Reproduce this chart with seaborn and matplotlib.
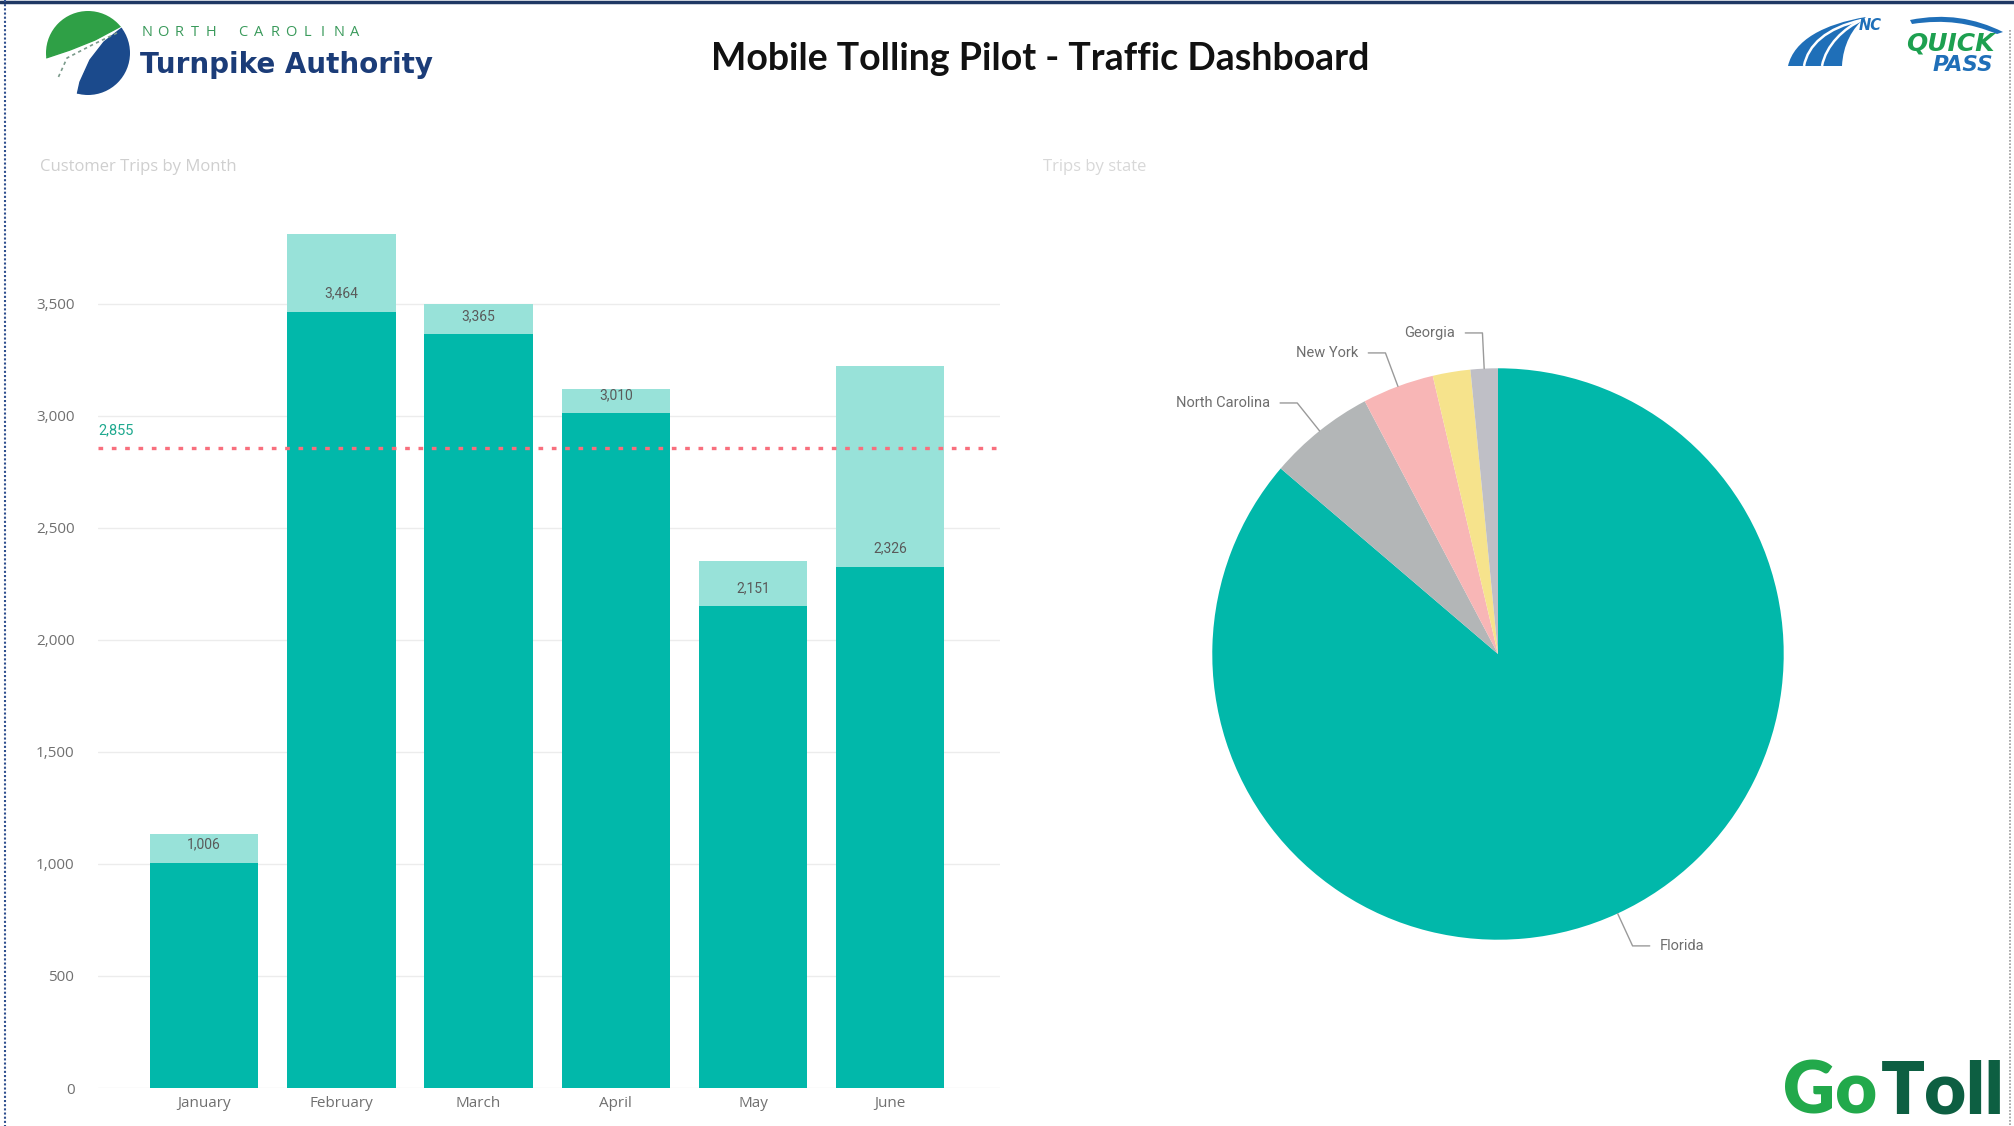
import numpy as np
import pandas as pd
import seaborn as sns
import matplotlib.pyplot as plt
from matplotlib.patches import Circle, Polygon, PathPatch
from matplotlib.path import Path
from matplotlib.ticker import FuncFormatter

# ---- data -------------------------------------------------------------
months = ["January", "February", "March", "April", "May", "June"]
customer_trips = [1006, 3464, 3365, 3010, 2151, 2326]
all_trips = [1132, 3810, 3500, 3118, 2350, 3220]
avg_trips = 2855
y_ticks = [0, 500, 1000, 1500, 2000, 2500, 3000, 3500]

states = ["Florida", "North Carolina", "New York", "", "Georgia"]
state_trips = [13215, 924, 621, 326, 236]

# ---- style --------------------------------------------------------------
sns.set_theme(style="white")
plt.rcParams["font.family"] = ["Open Sans", "DejaVu Sans"]

W, H = 2015, 1126
DARK = "#01B8AA"
LIGHT = "#98E2D9"
AVG = "#F86F7D"
state_colors = [DARK, "#B3B6B7", "#F8B6B6", "#F6E38C", "#BFBFC6"]

fig = plt.figure(figsize=(W / 100, H / 100), dpi=100)
fig.patch.set_facecolor("white")

# ---- monthly trips bar chart --------------------------------------------
ax = fig.add_axes([98 / W, 1 - 1088 / H, 902 / W, (1088 - 214) / H])
df = pd.DataFrame({"month": months, "customer": customer_trips, "total": all_trips})
sns.barplot(data=df, x="month", y="total", color=LIGHT, saturation=1,
            width=0.79, errorbar=None, linewidth=0, ax=ax, zorder=2)
sns.barplot(data=df, x="month", y="customer", color=DARK, saturation=1,
            width=0.79, errorbar=None, linewidth=0, ax=ax, zorder=3)
ax.set_xlim(-0.773, 5.80)
ax.set_ylim(0, 3900)
ax.set_yticks(y_ticks)
ax.yaxis.set_major_formatter(FuncFormatter(lambda v, p: f"{int(v):,}"))
ax.yaxis.grid(True, color="#ECECEC", lw=1)
ax.set_axisbelow(True)
for s in ax.spines.values():
    s.set_visible(False)
ax.set_xlabel("")
ax.set_ylabel("")
ax.tick_params(axis="y", length=0, pad=17, labelsize=11, labelcolor="#707070")
ax.tick_params(axis="x", length=0, pad=6, labelsize=11, labelcolor="#707070")

for i, v in enumerate(customer_trips):
    ax.annotate(f"{v:,}", xy=(i, v), xytext=(0, 18), textcoords="offset pixels",
                ha="center", va="center", fontsize=10, color="#5A5A5A",
                family="Roboto", zorder=5)

ax.axhline(avg_trips, color=AVG, lw=2.4, ls=(0, (1.4, 2.6)), zorder=4)
ax.annotate(f"{avg_trips:,}", xy=(0, avg_trips), xycoords=("axes fraction", "data"),
            xytext=(0, 18), textcoords="offset pixels", ha="left", va="center",
            fontsize=10.5, color="#1FA98F", family="Roboto")

# ---- trips by state pie -------------------------------------------------
pax = fig.add_axes([1198 / W, 1 - 954 / H, 600 / W, 600 / H])
wedges, _ = pax.pie(state_trips, colors=state_colors, startangle=90,
                    counterclock=False, radius=1, wedgeprops=dict(linewidth=0))
pax.set_xlim(-1.05, 1.05)
pax.set_ylim(-1.05, 1.05)
pax.set_aspect("equal")
pax.axis("off")

for wedge, name in zip(wedges, states):
    if not name:
        continue
    ang = np.deg2rad((wedge.theta1 + wedge.theta2) / 2)
    cx, cy = np.cos(ang), np.sin(ang)
    side = 1 if cx > 0 else -1
    p0 = (cx * 1.0, cy * 1.0)
    p1 = (cx * 1.125, cy * 1.125)
    p2 = (p1[0] + side * 0.06, p1[1])
    pax.plot([p0[0], p1[0], p2[0]], [p0[1], p1[1], p2[1]], color="#9A9A9A",
             lw=1, clip_on=False)
    pax.text(p2[0] + side * 0.035, p2[1], name, ha="left" if side > 0 else "right",
             va="center", fontsize=10.5, color="#6E6E6E", family="Roboto")

# ---- page decoration ----------------------------------------------------
deco = fig.add_axes([0, 0, 1, 1], zorder=10)
deco.set_xlim(0, W)
deco.set_ylim(H, 0)
deco.axis("off")
deco.patch.set_alpha(0)

# frame
deco.plot([0, W], [1.5, 1.5], color="#1F3864", lw=2.5)
deco.plot([5, 5], [0, H], color="#2F4F8F", lw=1.5, ls=(0, (1, 1)))
deco.plot([2010, 2010], [30, H], color="#9A9A9A", lw=1.2, ls=(0, (1, 1)))

fig.text(1040 / W, 1 - 59 / H, "Mobile Tolling Pilot - Traffic Dashboard",
         ha="center", va="center", fontsize=27, fontweight="bold",
         family=["Lato", "DejaVu Sans"], color="#111111")

deco.text(40, 167, "Customer Trips by Month", fontsize=12, color="#CFCFCF",
          va="center", ha="left")
deco.text(1043, 167, "Trips by state", fontsize=12, color="#D8D8D8",
          va="center", ha="left")

# turnpike authority emblem
circ = Circle((88, 53), 42, transform=deco.transData)
green = Polygon([(40, 60), (70, 50), (95, 40), (125, 24), (140, 0), (40, 0)],
                closed=True, color="#2FA046", zorder=11)
blue = Polygon([(127, 24), (104, 42), (90, 60), (80, 82), (76, 100), (140, 100), (140, 24)],
               closed=True, color="#1B4A8C", zorder=11)
for p in (green, blue):
    deco.add_patch(p)
    p.set_clip_path(circ)
deco.plot([117, 92, 67, 58], [33, 45, 58, 78], color="#7A9A8A", lw=1.2,
          ls=(0, (2, 2)), zorder=12)

for k, ch in enumerate("NORTH CAROLINA"):
    deco.text(147 + k * 16.0, 32, ch, ha="center", va="center", fontsize=10.5,
              color="#3A9A5B")
deco.text(140, 65, "Turnpike Authority", fontsize=20, fontweight="bold",
          color="#1B3C78", va="center", ha="left", family="DejaVu Sans")

# quick pass emblem
QP_BLUE = "#1F6FB8"
road = Path([(1788, 66), (1794, 40), (1824, 24), (1866, 17),
             (1852, 28), (1843, 45), (1842, 66), (1788, 66)],
            [Path.MOVETO, Path.CURVE4, Path.CURVE4, Path.CURVE4,
             Path.CURVE4, Path.CURVE4, Path.CURVE4, Path.CLOSEPOLY])
deco.add_patch(PathPatch(road, color=QP_BLUE, lw=0))
for x0 in (1804, 1822):
    lane = Path([(x0, 66), (x0 + 4, 45), (x0 + 22, 28), (1862, 20)],
                [Path.MOVETO, Path.CURVE4, Path.CURVE4, Path.CURVE4])
    deco.add_patch(PathPatch(lane, facecolor="none", edgecolor="white", lw=1.8))
swoosh = Path([(1910, 20), (1945, 13), (1975, 18), (2003, 32), (1997, 34),
               (1970, 23), (1945, 19), (1912, 24), (1910, 20)],
              [Path.MOVETO, Path.CURVE4, Path.CURVE4, Path.CURVE4, Path.LINETO,
               Path.CURVE4, Path.CURVE4, Path.CURVE4, Path.CLOSEPOLY])
deco.add_patch(PathPatch(swoosh, color=QP_BLUE, lw=0))
deco.text(1870, 25, "NC", fontsize=10.5, fontweight="bold", style="italic",
          color=QP_BLUE, ha="center", va="center", family="DejaVu Sans")
deco.text(1995, 50, "QUICK", fontsize=18, fontweight="bold", style="italic",
          color="#1DA050", ha="right", va="baseline", family="DejaVu Sans")
deco.text(1993, 71, "PASS", fontsize=15.5, fontweight="bold", style="italic",
          color=QP_BLUE, ha="right", va="baseline", family="DejaVu Sans")

# gotoll wordmark
deco.text(1783, 1114, "Go", fontsize=52, fontweight="heavy", color="#22A94B",
          ha="left", va="baseline", family=["Lato", "DejaVu Sans"])
deco.text(1881, 1114, "Toll", fontsize=52, fontweight="heavy", color="#0D5F42",
          ha="left", va="baseline", family=["Lato", "DejaVu Sans"])

fig.savefig("out.png", dpi=100, facecolor="white")
